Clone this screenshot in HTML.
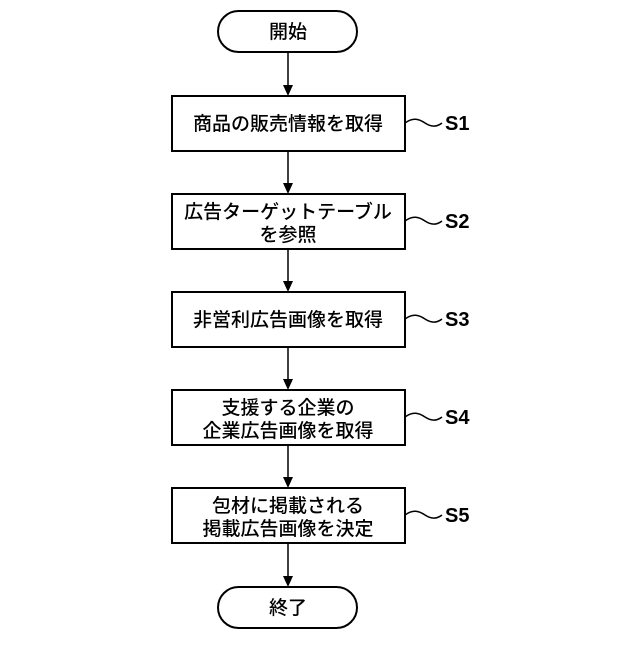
<!DOCTYPE html>
<html><head><meta charset="utf-8"><style>
body{margin:0;background:#fff}
svg text{font-family:"Liberation Sans","Noto Sans CJK JP",sans-serif;fill:#000}
</style></head><body>
<svg width="640" height="640" viewBox="0 0 640 640" xmlns="http://www.w3.org/2000/svg">
<g fill="none" stroke="#000" stroke-width="2">
<rect x="218" y="11" width="139" height="41" rx="20.5"/>
<rect x="218" y="587" width="139" height="41" rx="20.5"/>
<rect x="172" y="96" width="233" height="55"/>
<rect x="172" y="194" width="233" height="55"/>
<rect x="172" y="292" width="233" height="55"/>
<rect x="172" y="390" width="233" height="55"/>
<rect x="172" y="488" width="233" height="55"/>
<g stroke-width="1.5">
<line x1="288" y1="52" x2="288" y2="88"/>
<line x1="288" y1="151" x2="288" y2="186"/>
<line x1="288" y1="249" x2="288" y2="284"/>
<line x1="288" y1="347" x2="288" y2="382"/>
<line x1="288" y1="445" x2="288" y2="480"/>
<line x1="288" y1="543" x2="288" y2="579"/>
<path d="M405,123 c8,-6 14,-4 20,0 s12,4 17,0"/>
<path d="M405,221 c8,-6 14,-4 20,0 s12,4 17,0"/>
<path d="M405,319 c8,-6 14,-4 20,0 s12,4 17,0"/>
<path d="M405,417 c8,-6 14,-4 20,0 s12,4 17,0"/>
<path d="M405,515 c8,-6 14,-4 20,0 s12,4 17,0"/>
</g></g>
<g fill="#000">
<path d="M283,85 L293,85 L288,96 Z"/>
<path d="M283,183 L293,183 L288,194 Z"/>
<path d="M283,281 L293,281 L288,292 Z"/>
<path d="M283,379 L293,379 L288,390 Z"/>
<path d="M283,477 L293,477 L288,488 Z"/>
<path d="M283,576 L293,576 L288,587 Z"/>
</g>
<g font-size="19" font-weight="500" text-anchor="middle">
<text x="288" y="38">開始</text>
<text x="288" y="614">終了</text>
<text x="288" y="130">商品の販売情報を取得</text>
<text x="288" y="218">広告ターゲットテーブル</text>
<text x="288" y="241">を参照</text>
<text x="288" y="326">非営利広告画像を取得</text>
<text x="288" y="414">支援する企業の</text>
<text x="288" y="437">企業広告画像を取得</text>
<text x="288" y="512">包材に掲載される</text>
<text x="288" y="535">掲載広告画像を決定</text>
</g>
<g font-size="20" font-weight="bold">
<text x="445" y="130">S1</text>
<text x="445" y="228">S2</text>
<text x="445" y="326">S3</text>
<text x="445" y="424">S4</text>
<text x="445" y="522">S5</text>
</g>
</svg>
</body></html>
